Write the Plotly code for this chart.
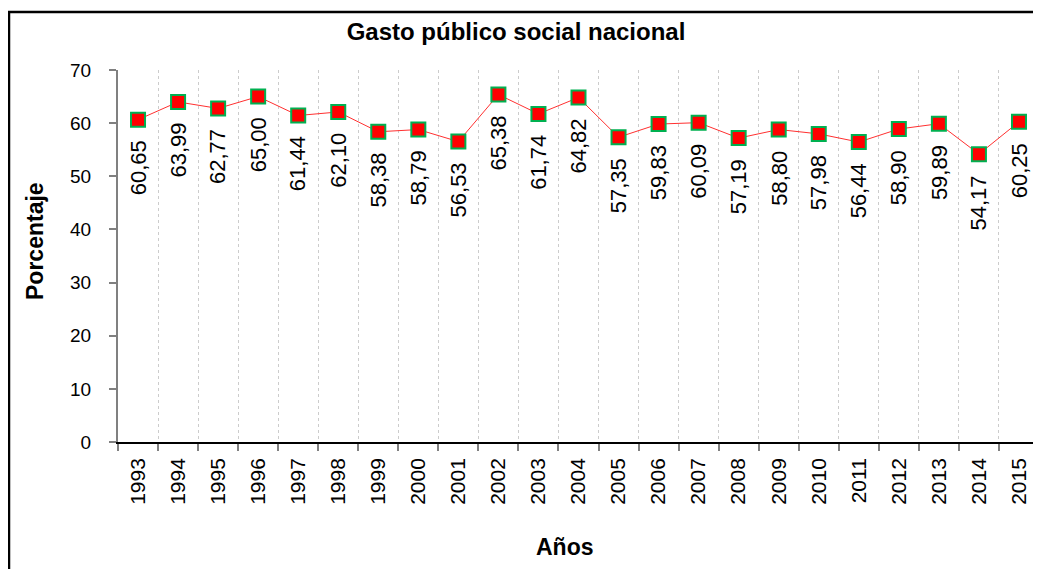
import plotly.graph_objects as go

years = [str(y) for y in range(1993, 2016)]
values = [60.65, 63.99, 62.77, 65.00, 61.44, 62.10, 58.38, 58.79, 56.53, 65.38,
          61.74, 64.82, 57.35, 59.83, 60.09, 57.19, 58.80, 57.98, 56.44, 58.90,
          59.89, 54.17, 60.25]
y_ticks = [0, 10, 20, 30, 40, 50, 60, 70]

# page body has an 8px margin, so the figure is offset by 8px
OFF = 8
W, H = 1041 - OFF, 569 - OFF
ML, MR, MT, MB = 118 - OFF, 2, 70 - OFF, 127
PW, PH = W - ML - MR, H - MT - MB

def px(x):  # target screen x -> paper
    return (x - OFF - ML) / PW

def py(y):  # target screen y -> paper
    return (H - MB - (y - OFF)) / PH

FONT = "Liberation Sans, Arial, sans-serif"

fig = go.Figure()
fig.add_trace(go.Scatter(
    x=years, y=values, mode="lines+markers",
    line=dict(color="#ff3030", width=1),
    marker=dict(symbol="square", size=14, color="#ff0000",
                line=dict(color="#00b050", width=2)),
    hoverinfo="skip", showlegend=False,
))

annotations = []
for i, v in enumerate(values):
    annotations.append(dict(
        x=i, y=v, xref="x", yref="y", text=f"{v:.2f}".replace(".", ","),
        showarrow=False, textangle=-90, yanchor="top", xanchor="center",
        yshift=-19, font=dict(family=FONT, size=22, color="black"),
    ))

annotations.append(dict(
    x=px(565), y=py(547), xref="paper", yref="paper", text="<b>Años</b>",
    showarrow=False, xanchor="center", yanchor="middle",
    font=dict(family=FONT, size=23, color="black"),
))
annotations.append(dict(
    x=px(35), y=py(241), xref="paper", yref="paper", text="<b>Porcentaje</b>",
    showarrow=False, textangle=-90, xanchor="center", yanchor="middle",
    font=dict(family=FONT, size=23, color="black"),
))

fig.update_layout(
    width=W, height=H,
    margin=dict(l=ML, r=MR, t=MT, b=MB, pad=0),
    paper_bgcolor="white", plot_bgcolor="white",
    title=dict(text="<b>Gasto público social nacional</b>", xref="container",
               x=(516 - OFF) / W, xanchor="center", yref="container",
               y=1 - (32 - OFF) / H, yanchor="middle",
               font=dict(family=FONT, size=24, color="black")),
    annotations=annotations,
    shapes=[dict(type="rect", xref="paper", yref="paper",
                 x0=px(9), x1=1.2, y0=-0.6, y1=py(12),
                 line=dict(color="black", width=2.5), fillcolor="rgba(0,0,0,0)",
                 layer="above")],
    xaxis=dict(
        type="category", range=[-0.5, 22.5], tickson="boundaries",
        showgrid=True, gridcolor="#cccccc", griddash="dot", gridwidth=1,
        showline=True, linecolor="black", linewidth=1.5,
        ticks="outside", ticklen=7, tickcolor="#808080", tickwidth=1.5,
        tickangle=-90, ticklabelstandoff=6,
        tickfont=dict(family=FONT, size=21, color="black"),
        zeroline=False, fixedrange=True,
    ),
    yaxis=dict(
        range=[0, 70], tickvals=y_ticks, showgrid=False, zeroline=False,
        showline=True, linecolor="#808080", linewidth=2,
        ticks="outside", ticklen=7, tickcolor="#808080", tickwidth=1.5,
        ticklabelstandoff=14,
        tickfont=dict(family=FONT, size=19, color="black"),
        fixedrange=True,
    ),
)

fig.write_html("out.html")
